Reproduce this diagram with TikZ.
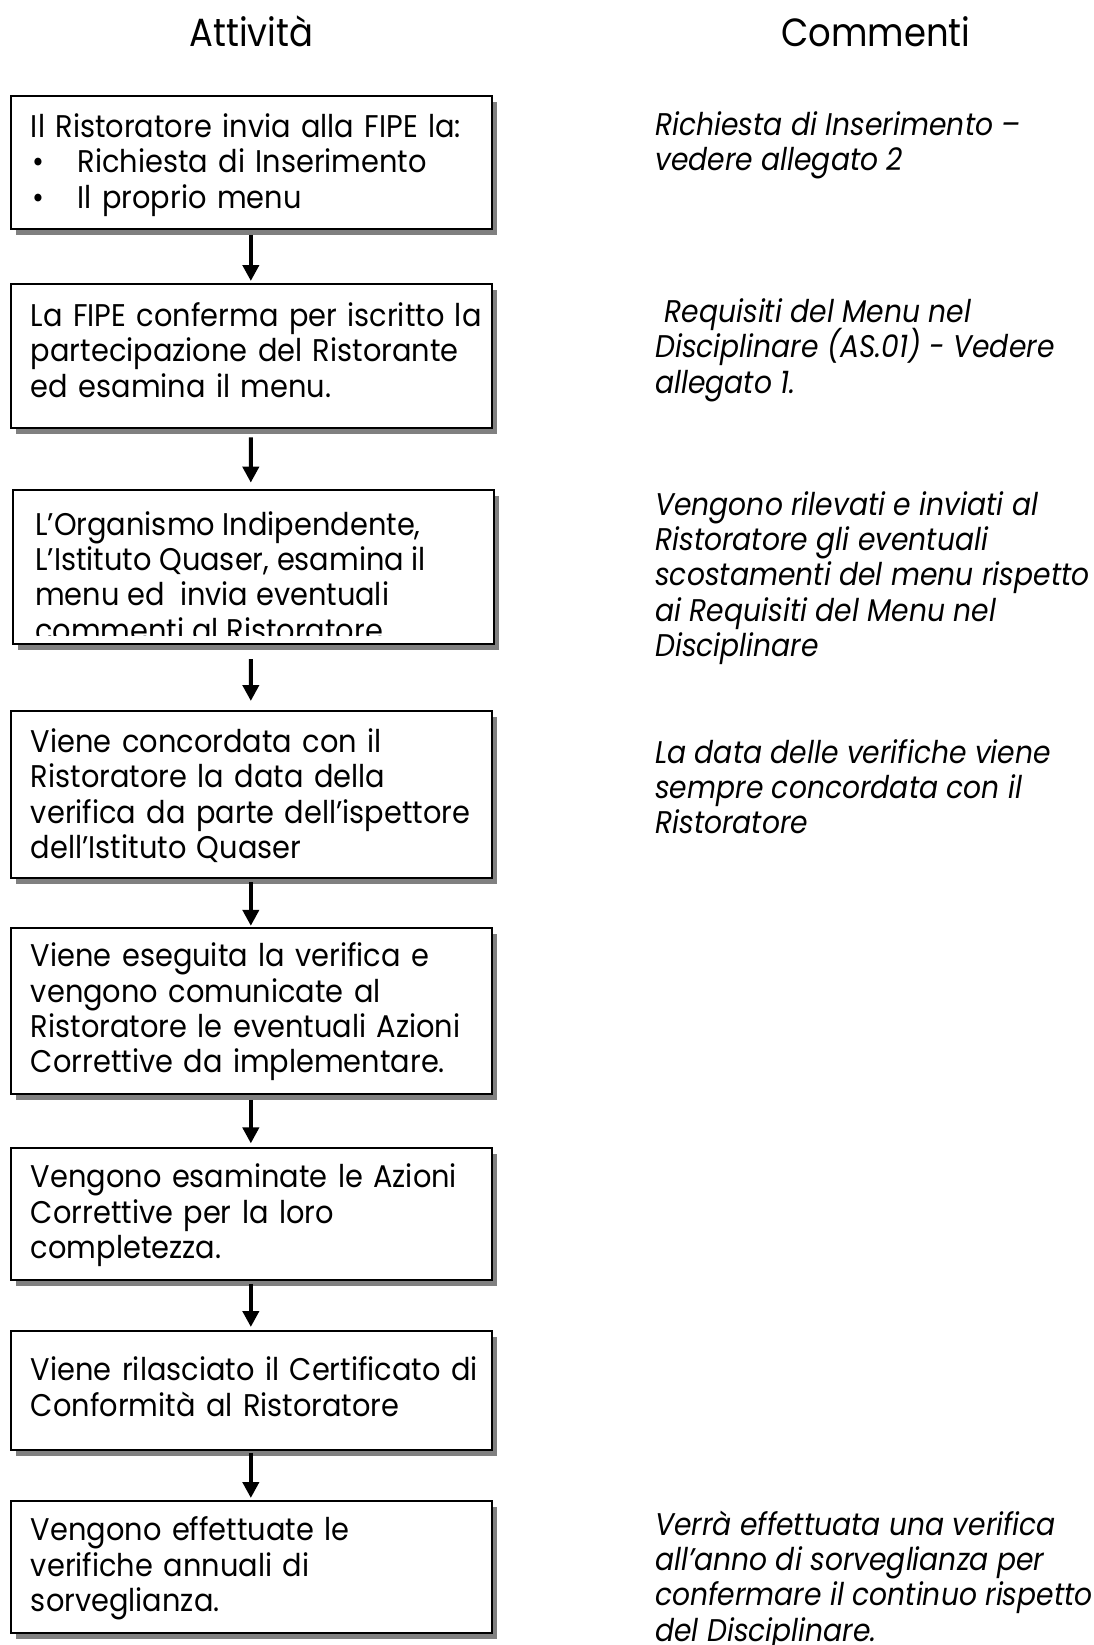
\documentclass[tikz,border=0pt]{standalone}
\usepackage{fontspec}
\setmainfont{Poppins}
\newfontfamily\bodyf{Poppins}[FakeStretch=0.92]
\newfontfamily\comf{Poppins}[FakeStretch=0.90]
\newfontfamily\headf{Poppins}[FakeStretch=0.90]
\usetikzlibrary{shadows,arrows.meta}
\newcommand{\bodyfont}{\bodyf\fontsize{23.5}{26.5}\selectfont}
\newcommand{\comfont}{\comf\itshape\fontsize{23.5}{26.5}\selectfont}
\newcommand{\headfont}{\headf\fontsize{29.5}{34}\selectfont}
\newcommand{\bul}{\makebox[35pt][l]{\hspace{1pt}•}}
\newcommand{\lines}[1]{\vbox{\lineskiplimit=-100pt\relax\let\\\cr\halign{##\hfil\cr#1\crcr}}}
\newcommand{\tlines}[1]{\vtop{\lineskiplimit=-100pt\relax\let\\\cr\halign{##\hfil\cr#1\crcr}}}
\newcommand{\gap}[1]{\noalign{\vskip#1}}
\begin{document}
\begin{tikzpicture}[x=0.75pt,y=-0.75pt]
\useasboundingbox (0,0) rectangle (1094,1645);
\tikzset{
  box/.style={draw=black, line width=1.5pt, fill=white,
    drop shadow={shadow xshift=3.75pt, shadow yshift=-4.5pt, fill=black!50, opacity=1},
    minimum width=360.75pt, inner xsep=15pt, text width=330.75pt, align=left,
    anchor=north, font=\bodyfont},
  comment/.style={anchor=base west, inner sep=0pt, font=\comfont},
  head/.style={font=\headfont, inner sep=0pt, anchor=base},
  arr/.style={line width=3pt, -{Triangle[length=12pt,width=12pt]}}
}
\node[head] (h1) at (251.3,46.7) {Attività};
\node[head] (h2) at (876,46.7) {Commenti};

\node[box, minimum height=99.5pt] (b1) at (251.5,95) {\lines{\gap{4pt}Il Ristoratore invia alla FIPE la:\\ \bul Richiesta di Inserimento\\ \bul Il proprio menu}};
\node[box, minimum height=108.2pt] (b2) at (251.5,283) {\lines{La FIPE conferma per iscritto la\\ partecipazione del Ristorante\\ ed esamina il menu.\\ \gap{9pt}}};
\node[box, minimum height=115.3pt, minimum width=359.8pt] (b3) at (253.2,489.3) {};
\begin{scope}
\clip (15,491) rectangle (491,635);
\node[anchor=base west, inner sep=0pt, font=\bodyfont] (t3) at (35,535) {\tlines{L’Organismo Indipendente,\\ L’Istituto Quaser, esamina il\\ menu ed \ invia eventuali\\ commenti al Ristoratore}};
\end{scope}
\node[box, minimum height=125pt] (b4) at (251.5,710) {\lines{\gap{2pt}Viene concordata con il\\ Ristoratore la data della\\ verifica da parte dell’ispettore\\ dell’Istituto Quaser}};
\node[box, minimum height=124.5pt] (b5) at (251.5,926.5) {\lines{\gap{2pt}Viene eseguita la verifica e\\ vengono comunicate al\\ Ristoratore le eventuali Azioni\\ Correttive da implementare.}};
\node[box, minimum height=99pt] (b6) at (251.5,1147) {\lines{\gap{2pt}Vengono esaminate le Azioni\\ Correttive per la loro\\ completezza.}};
\node[box, minimum height=89.25pt] (b7) at (251.5,1330) {\lines{Viene rilasciato il Certificato di\\ Conformità al Ristoratore\\ \gap{6pt}}};
\node[box, minimum height=99pt] (b8) at (251.5,1500) {\lines{\gap{2pt}Vengono effettuate le\\ verifiche annuali di\\ sorveglianza.}};

\draw[arr] ([xshift=-0.5pt,yshift=-3.75pt]b1.south) -- ([xshift=-0.5pt,yshift=1.5pt]b2.north);
\draw[arr] ([xshift=-0.5pt,yshift=-6pt]b2.south) -- ([xshift=-1.8pt,yshift=5pt]b3.north);
\draw[arr] ([xshift=-1.8pt,yshift=-10.5pt]b3.south) -- ([xshift=-0.5pt,yshift=6.75pt]b4.north);
\draw[arr] ([xshift=-0.5pt,yshift=-2.5pt]b4.south) -- ([xshift=-0.5pt,yshift=0.5pt]b5.north);
\draw[arr] ([xshift=-0.5pt,yshift=-4pt]b5.south) -- ([xshift=-0.5pt,yshift=2.7pt]b6.north);
\draw[arr] ([xshift=-0.5pt,yshift=-2.2pt]b6.south) -- ([xshift=-0.5pt,yshift=2.25pt]b7.north);
\draw[arr] ([xshift=-0.5pt,yshift=-1.4pt]b7.south) -- ([xshift=-0.5pt,yshift=1.5pt]b8.north);

\node[comment] (c1) at (655,135) {\tlines{Richiesta di Inserimento –\\ vedere allegato 2}};
\node[comment] (c2) at (655,322.6) {\tlines{\hspace*{7pt}Requisiti del Menu nel\\ Disciplinare (AS.01) - Vedere\\ allegato 1.}};
\node[comment] (c3) at (655,515) {\tlines{Vengono rilevati e inviati al\\ Ristoratore gli eventuali\\ scostamenti del menu rispetto\\ ai Requisiti del Menu nel\\ Disciplinare}};
\node[comment] (c4) at (655,763) {\tlines{La data delle verifiche viene\\ sempre concordata con il\\ Ristoratore}};
\node[comment] (c8) at (655,1535) {\tlines{Verrà effettuata una verifica\\ all’anno di sorveglianza per\\ confermare il continuo rispetto\\ del Disciplinare.}};
\end{tikzpicture}
\end{document}
